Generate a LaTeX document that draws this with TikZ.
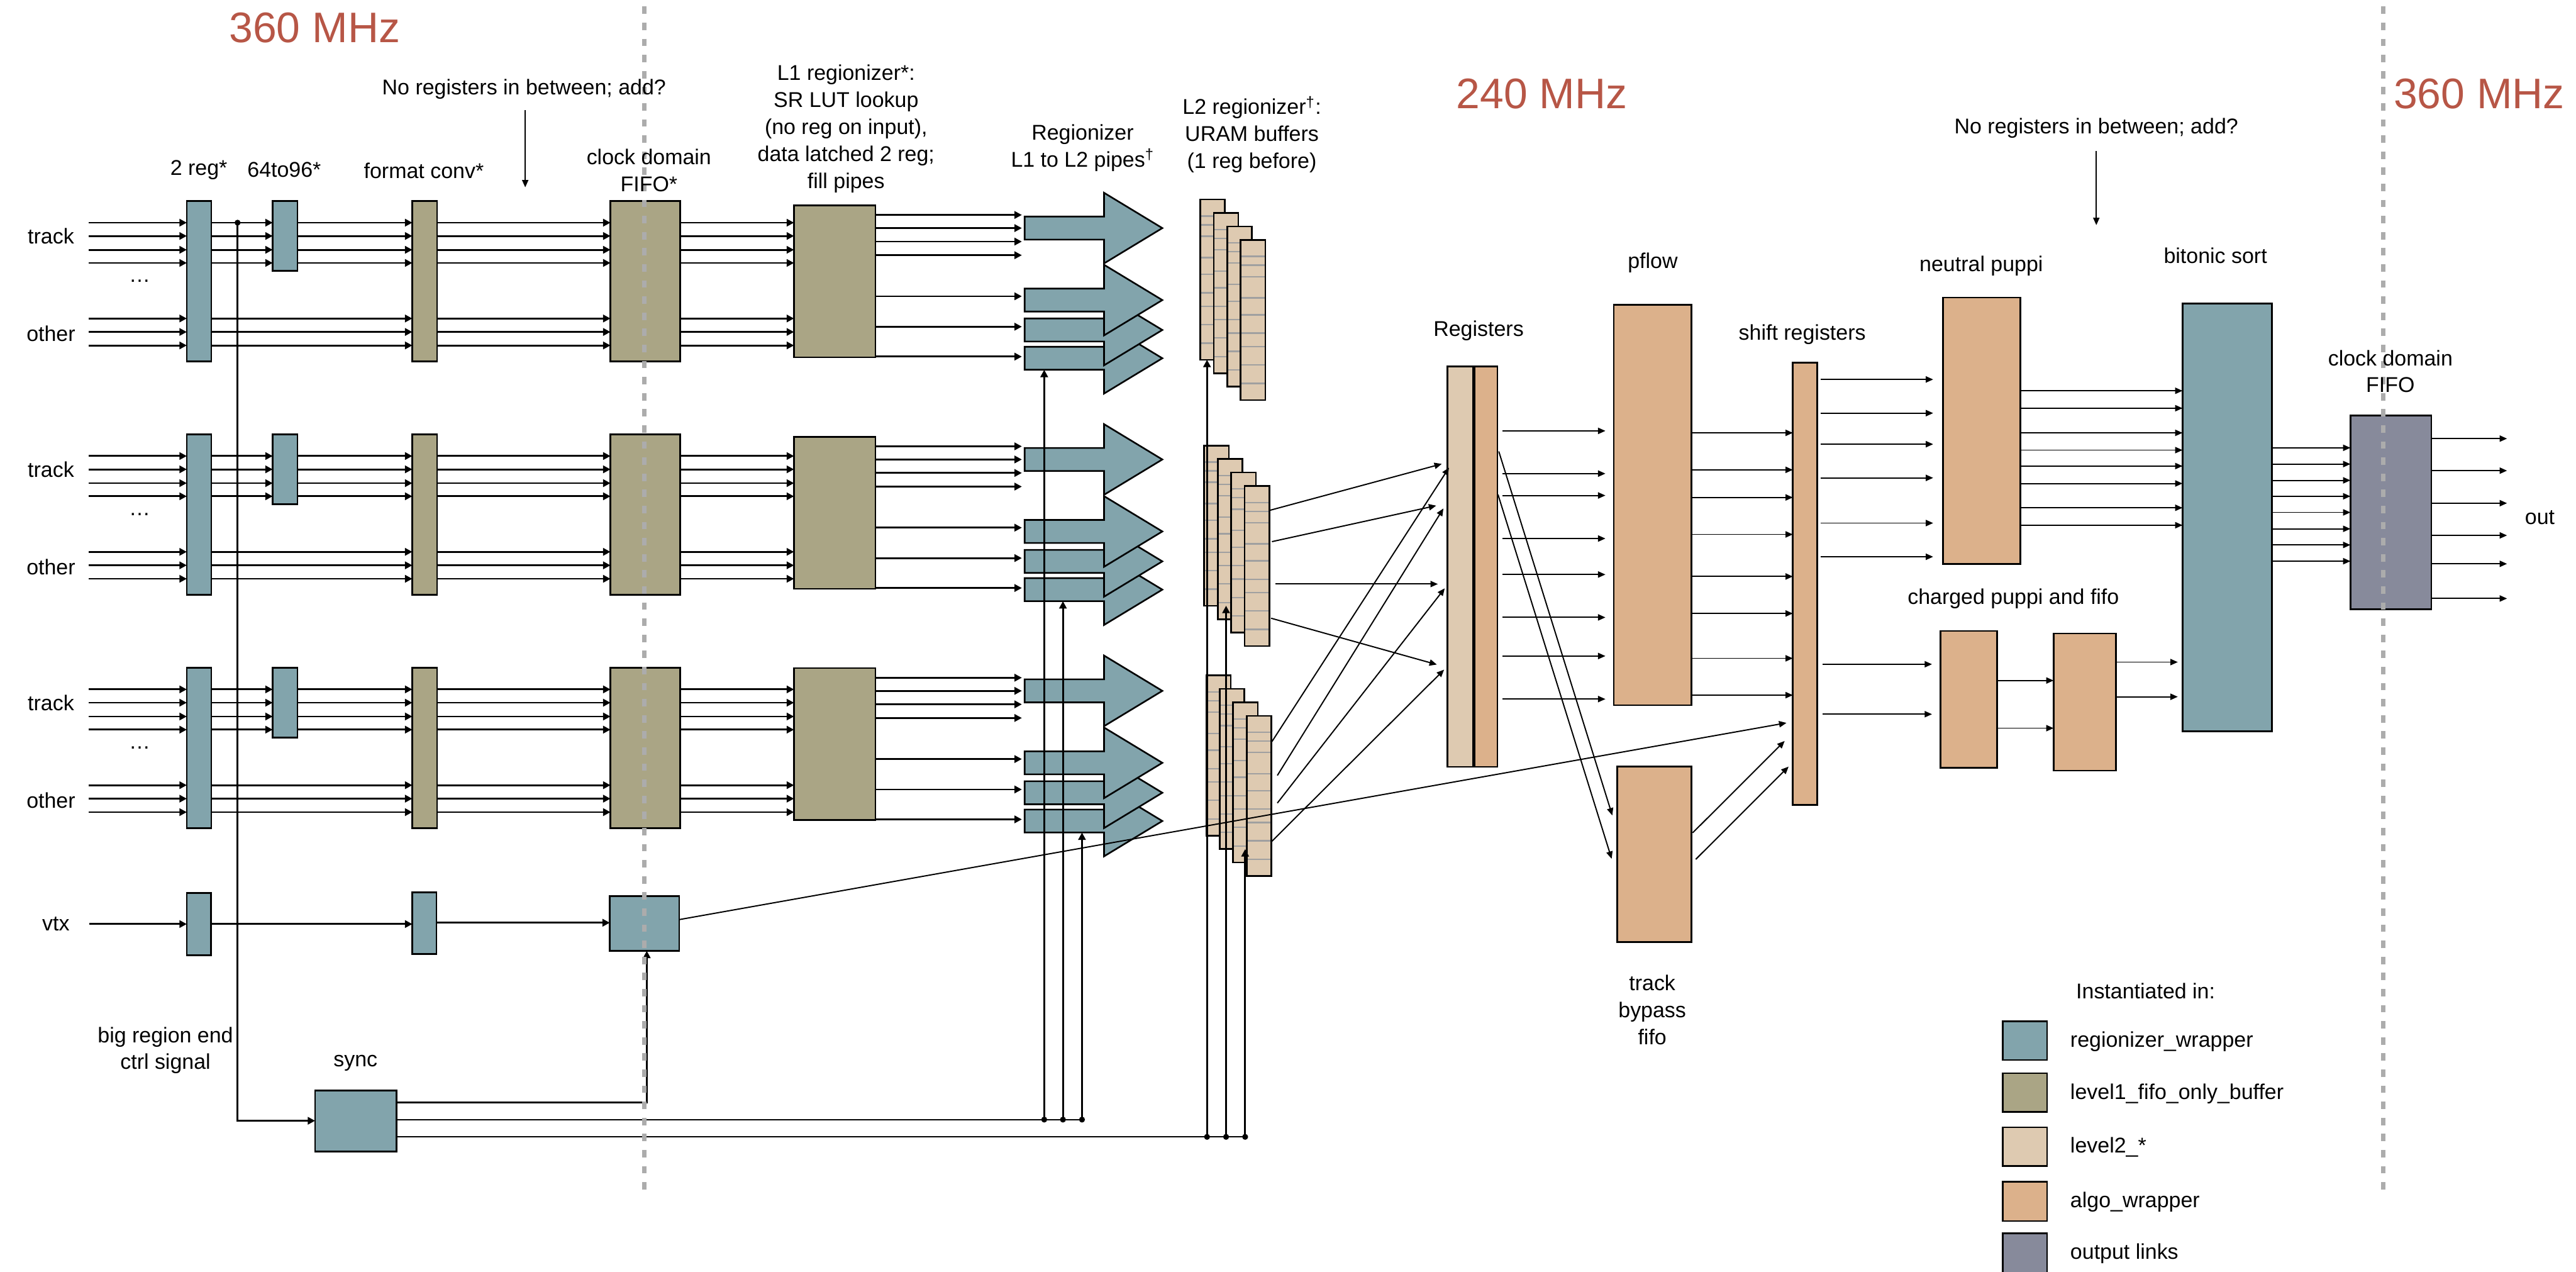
\documentclass[tikz,border=0pt]{standalone}
\usepackage{fontspec}
\setmainfont{Liberation Sans}
\usetikzlibrary{arrows.meta}
\definecolor{cReg}{RGB}{130,164,172}
\definecolor{cLone}{RGB}{170,165,133}
\definecolor{cLtwo}{RGB}{222,202,177}
\definecolor{cAlgo}{RGB}{220,177,139}
\definecolor{cOut}{RGB}{135,138,155}
\definecolor{cRed}{RGB}{183,86,70}
\definecolor{cDash}{RGB}{172,172,172}
\definecolor{cGrid}{RGB}{160,160,160}
\newcommand\mkbox[6]{\node[boxst,fill=#2,minimum width={(#5)-(#3)},minimum height={(#6)-(#4)}] (#1) at (#3,#4) {};}
\newcommand\mkpipe[1]{\draw[line width=1pt,fill=cReg] (623.7,#1-7) -- (672,#1-7) -- (672,#1-21.5) -- (707.5,#1) -- (672,#1+21.5) -- (672,#1+7) -- (623.7,#1+7) -- cycle;}
\newcommand\mkstack[3]{%
 \foreach \i in {0,1,2,3}{%
  \pgfmathsetmacro\lx{#2+8.2*\i}\pgfmathsetmacro\ly{#3+8.2*\i}%
  \node[boxst,draw=none,fill=cLtwo,minimum width=15,minimum height=97.5] (#1\i) at (\lx,\ly) {};
  \foreach \f in {0.103,0.158,0.229,0.362,0.467,0.582,0.666,0.78,0.896}
   \draw[cGrid,line width=0.9pt] (\lx,\ly+97.5*\f) -- ++(15,0);
  \draw[line width=1pt] (#1\i.north west) rectangle (#1\i.south east);
 }}
\begin{document}
\begin{tikzpicture}[x=1pt,y=-1pt,
 lbl/.style={font=\fontsize{13}{16.4}\selectfont,inner sep=0pt,align=center},
 bigred/.style={font=\fontsize{26}{30}\selectfont,text=cRed,inner sep=0pt},
 conn/.style={line width=1.1pt,-{Triangle[length=4.5pt,width=4.5pt]}},
 rconn/.style={line width=0.75pt,-{Triangle[length=4.5pt,width=3.8pt]}},
 wire/.style={line width=0.9pt},
 boxst/.style={draw=black,line width=1pt,inner sep=0pt,outer sep=0pt,anchor=north west},
 clk/.style={draw=cDash,line width=2.6pt,dash pattern=on 4.5pt off 5.3pt},
 jdot/.style={circle,fill=black,inner sep=0pt,minimum size=3.6pt}]
\useasboundingbox (0,0) rectangle (1568,774);

% ---------------- input groups ----------------
\foreach \g in {0,1,2}{
 \pgfmathsetmacro\gy{142*\g}
 \pgfmathsetmacro\gq{140.8*\g}
 \mkbox{reg\g}{cReg}{113.7}{122.4+\gy}{128.6}{220+\gy}
 \mkbox{six\g}{cReg}{166}{122.4+\gy}{181}{164.8+\gy}
 \mkbox{conv\g}{cLone}{251}{122.4+\gy}{266}{220+\gy}
 \mkbox{cdf\g}{cLone}{371.6}{122.4+\gy}{414}{220+\gy}
 \mkbox{lone\g}{cLone}{483.3}{125+\gq}{532.9}{217.5+\gq}
 \mkpipe{218+\gq}
 \mkpipe{200.8+\gq}
 \mkpipe{182.6+\gq}
 \mkpipe{138.8+\gq}
 \node[lbl] (trk\g) at (31,143.7+\gy) {track};
 \node[lbl] (oth\g) at (31,203+\gy) {other};
 \node[lbl] (dots\g) at (85,171+\gy) {\dots};
 \foreach \y in {135.5,143.6,152,160,193.8,202,210.2}{
   \draw[conn] (54,\y+\gy) -- (reg\g.west |- 0,\y+\gy);
   \draw[conn] (conv\g.east |- 0,\y+\gy) -- (cdf\g.west |- 0,\y+\gy);
   \draw[conn] (cdf\g.east |- 0,\y+\gy) -- (lone\g.west |- 0,\y+\gy);
 }
 \foreach \y in {135.5,143.6,152,160}{
   \draw[conn] (reg\g.east |- 0,\y+\gy) -- (six\g.west |- 0,\y+\gy);
   \draw[conn] (six\g.east |- 0,\y+\gy) -- (conv\g.west |- 0,\y+\gy);
 }
 \foreach \y in {193.8,202,210.2}
   \draw[conn] (reg\g.east |- 0,\y+\gy) -- (conv\g.west |- 0,\y+\gy);
 \foreach \y in {130.8,138.8,147,155.3,180.3,198.8,217}
   \draw[conn] (lone\g.east |- 0,\y+\gq) -- (622,\y+\gq);
}

% ---------------- L2 buffers ----------------
\mkstack{la}{730.6}{121.4}
\mkstack{lb}{733}{271.1}
\mkstack{lc}{734.2}{411}

% ---------------- algo part ----------------
\mkbox{regsL}{cLtwo}{881}{222.9}{897}{466.7}
\mkbox{regsR}{cAlgo}{897}{222.9}{911.4}{466.7}
\draw[line width=1.8pt] (regsL.north east) -- (regsL.south east);
\mkbox{pflow}{cAlgo}{982.3}{185.5}{1029.5}{429.1}
\mkbox{byp}{cAlgo}{984.5}{466.4}{1029.6}{573.2}
\mkbox{shift}{cAlgo}{1091.3}{220.7}{1106.2}{489.8}
\mkbox{neut}{cAlgo}{1182.6}{181}{1229.8}{343.1}
\mkbox{chA}{cAlgo}{1181.1}{384}{1215.5}{467.3}
\mkbox{chB}{cAlgo}{1250}{385.5}{1288}{469}
\mkbox{bito}{cReg}{1328.5}{184.6}{1382.8}{445.1}
\mkbox{ofifo}{cOut}{1430.7}{252.8}{1480}{370.8}

% ---------------- vtx and sync ----------------
\mkbox{vA}{cReg}{113.7}{543.5}{128.5}{581.2}
\mkbox{vB}{cReg}{251}{543}{265.7}{580.5}
\mkbox{vC}{cReg}{371.2}{545.2}{413.4}{578.6}
\mkbox{sync}{cReg}{191.8}{663.5}{241.4}{700.8}

% ---------------- legend ----------------
\mkbox{lgA}{cReg}{1219}{621.5}{1246}{645}
\mkbox{lgB}{cLone}{1219}{653}{1246}{676.6}
\mkbox{lgC}{cLtwo}{1219}{686}{1246}{709.6}
\mkbox{lgD}{cAlgo}{1219}{719}{1246}{743}
\mkbox{lgE}{cOut}{1219}{750.5}{1246}{777}
\node[lbl,anchor=west] (lgtA) at (1260,634) {regionizer\_wrapper};
\node[lbl,anchor=west] (lgtB) at (1260,665.5) {level1\_fifo\_only\_buffer};
\node[lbl,anchor=west] (lgtC) at (1260,698) {level2\_*};
\node[lbl,anchor=west] (lgtD) at (1260,731.5) {algo\_wrapper};
\node[lbl,anchor=west] (lgtE) at (1260,763) {output links};
\node[lbl] (lgT) at (1306,603) {Instantiated in:};

% ---------------- vtx row connectors ----------------
\node[lbl] (vtx) at (34,562.3) {vtx};
\draw[conn] (54.5,562.3) -- (vA.west |- 0,562.3);
\draw[conn] (vA.east |- 0,562.3) -- (vB.west |- 0,562.3);
\draw[conn] (vB.east |- 0,561.5) -- (vC.west |- 0,561.5);
\draw[rconn] (vC.east |- 0,559.6) -- (1087.4,439.9);

% ---------------- control lines ----------------
\node[jdot] (j0) at (144.6,135.5) {};
\draw[conn] (j0.center) -- (144.6,682) -- (sync.west |- 0,682);
\draw[conn] (sync.east |- 0,671) -- (393.7,671) -- (vC.south -| 393.7,0);
\draw[wire] (sync.east |- 0,681.3) -- (658.6,681.3);
\draw[wire] (sync.east |- 0,691.8) -- (757.9,691.8);
\node[jdot] (d1) at (635.6,681.3) {};
\node[jdot] (d2) at (647,681.3) {};
\node[jdot] (d3) at (658.6,681.3) {};
\node[jdot] (d4) at (734.7,691.8) {};
\node[jdot] (d5) at (746.3,691.8) {};
\node[jdot] (d6) at (757.9,691.8) {};
\draw[conn] (d1.center) -- (635.6,225);
\draw[conn] (d2.center) -- (647,365.8);
\draw[conn] (d3.center) -- (658.6,506.6);
\draw[conn] (d4.center) -- (la0.south -| 734.7,0);
\draw[conn] (d5.center) -- (lb0.south -| 746.3,0);
\draw[conn] (d6.center) -- (lc1.south -| 757.9,0);

% ---------------- L2 -> Registers ----------------
\draw[rconn] (772.7,310.6) -- (877.6,282.3);
\draw[rconn] (774.2,329.6) -- (874.2,307.7);
\draw[rconn] (776.4,355.4) -- (875.2,355.4);
\draw[rconn] (773.7,376.2) -- (874.6,404.4);
\draw[rconn] (774.2,451.3) -- (882,284.6);
\draw[rconn] (777.5,471.9) -- (878.6,309.4);
\draw[rconn] (777.5,488.7) -- (879.4,358);
\draw[rconn] (773.9,512.2) -- (879,407.5);

% ---------------- Registers -> pflow / bypass ----------------
\foreach \y in {262.2,288.2,301.5,327.7,349.6,375.7,399.2,425.4}
  \draw[rconn] (914.7,\y) -- (977.2,\y);
\draw[rconn] (912.3,274.7) -- (981.4,496.2);
\draw[rconn] (911.8,300.9) -- (981,522.6);
\foreach \y in {263.4,285.9,302.7,325.2,350.8,373.3,400.6,423}
  \draw[rconn] (pflow.east |- 0,\y) -- (shift.west |- 0,\y);
\draw[rconn] (1030.3,506.8) -- (1086.3,450.9);
\draw[rconn] (1032.2,522.9) -- (1088.7,466.5);
\foreach \y in {230.9,251.4,270.3,290.8,318.3,338.8}
  \draw[rconn] (1108.3,\y) -- (1176.7,\y);
\foreach \y in {404.2,434.6}
  \draw[rconn] (1109.5,\y) -- (1176,\y);
\foreach \y in {414.1,443.1}
  \draw[rconn] (chA.east |- 0,\y) -- (chB.west |- 0,\y);
\foreach \y in {402.9,424}
  \draw[rconn] (chB.east |- 0,\y) -- (1325.6,\y);
\foreach \y in {237.8,248.4,263.4,273.9,283.6,294.2,309,319.6}
  \draw[rconn] (neut.east |- 0,\y) -- (bito.west |- 0,\y);
\foreach \y in {272.5,282.4,292.3,302,311.8,321.8,331.6,341.5}
  \draw[rconn] (bito.east |- 0,\y) -- (ofifo.west |- 0,\y);
\foreach \y in {266.9,286.4,306.2,325.8,343.1,364.2}
  \draw[rconn] (ofifo.east |- 0,\y) -- (1526,\y);

% ---------------- clock domain boundaries ----------------
\draw[clk] (392.3,4) -- (392.3,724);
\draw[clk] (1450.7,4) -- (1450.7,724);

% ---------------- texts ----------------
\node[bigred] (mhzA) at (191.5,17) {360 MHz};
\node[bigred] (mhzB) at (938.5,57) {240 MHz};
\node[bigred] (mhzC) at (1509,57) {360 MHz};
\node[lbl] (noregA) at (319,54.2) {No registers in between; add?};
\draw[rconn] (319.7,67) -- (319.7,114);
\node[lbl] (noregB) at (1276,78) {No registers in between; add?};
\draw[rconn] (1276,92) -- (1276,137);
\node[lbl] at (121,103.3) {2 reg*};
\node[lbl] at (173,103.3) {64to96*};
\node[lbl] at (258,104) {format conv*};
\node[lbl] at (395,103.7) {clock domain\\FIFO*};
\node[lbl] at (515,78.3) {L1 regionizer*:\\SR LUT lookup\\(no reg on input),\\data latched 2 reg;\\fill pipes};
\node[lbl] at (659,90) {Regionizer\\L1 to L2 pipes\textsuperscript{\textdagger}};
\node[lbl] at (762,81.8) {L2 regionizer\textsuperscript{\textdagger}:\\URAM buffers\\(1 reg before)};
\node[lbl] at (900,201.3) {Registers};
\node[lbl] at (1006,160) {pflow};
\node[lbl] at (1097,203.7) {shift registers};
\node[lbl] at (1206,162) {neutral puppi};
\node[lbl] at (1348.5,155.6) {bitonic sort};
\node[lbl] at (1455,226) {clock domain\\FIFO};
\node[lbl] at (1546,315) {out};
\node[lbl] at (1225.5,364.4) {charged puppi and fifo};
\node[lbl] at (1005.7,614.5) {track\\bypass\\fifo};
\node[lbl] at (100.7,639.2) {big region end\\ctrl signal};
\node[lbl] at (216.4,647) {sync};
\end{tikzpicture}
\end{document}
